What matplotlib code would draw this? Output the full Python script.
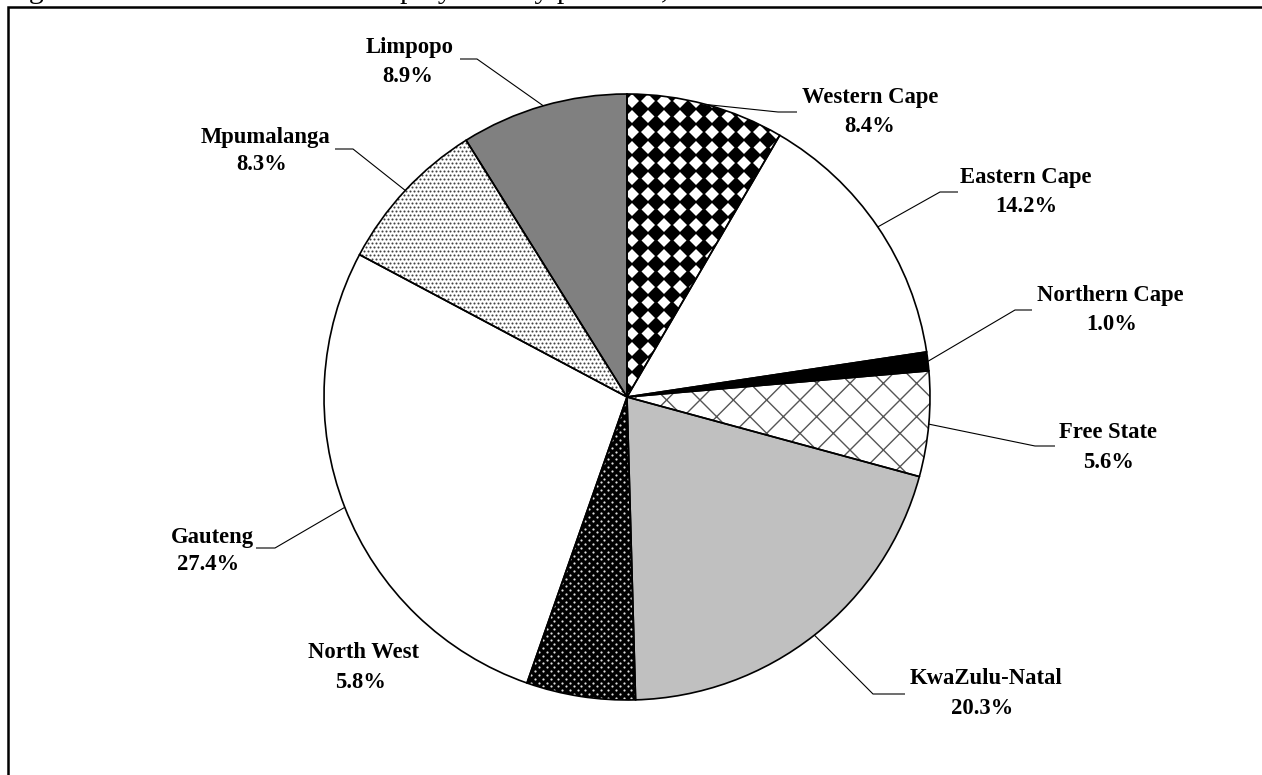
import numpy as np
import matplotlib
matplotlib.use("Agg")
import matplotlib.pyplot as plt
from matplotlib.patches import Wedge, Rectangle

# ---------------- data ----------------
provinces = ["Western Cape", "Eastern Cape", "Northern Cape", "Free State",
             "KwaZulu-Natal", "North West", "Gauteng", "Mpumalanga", "Limpopo"]
shares = [8.4, 14.2, 1.0, 5.6, 20.3, 5.8, 27.4, 8.3, 8.9]
pct_labels = ["8.4%", "14.2%", "1.0%", "5.6%", "20.3%", "5.8%", "27.4%", "8.3%", "8.9%"]
caption = "Figure 4: Distribution of total employment by province, 2010"

# ---------------- layout (image pixels, y downwards) ----------------
W, H = 1262, 775
CX, CY, R = 627, 397, 303
name_pos = [(870, 98), (1026, 178), (1110, 295), (1108, 433), (986, 679),
            (363, 653), (212, 537), (266, 137), (410, 47)]
pct_pos = [(870, 126), (1026, 206), (1112, 325), (1108, 462), (982, 709),
           (360, 682), (208, 565), (262, 165), (408, 77)]
elbow = [(778, 112), (940, 192), (1015, 310), (1035, 446), (873, 694),
         None, (275, 548), (353, 149), (477, 59)]
lead_end = [(797, 112), (958, 192), (1032, 310), (1055, 446), (905, 694),
            None, (256, 548), (335, 149), (460, 59)]

plt.rcParams["font.family"] = ["Liberation Serif", "DejaVu Serif"]
fig = plt.figure(figsize=(W / 100, H / 100), dpi=100)
ax = fig.add_axes([0, 0, 1, 1])


def Y(y):
    return H - y


wedges, _ = ax.pie(shares, startangle=90, counterclock=False,
                   center=(CX, Y(CY)), radius=R, normalize=True,
                   wedgeprops=dict(linewidth=0, edgecolor="none"))
ax.set_xlim(0, W)
ax.set_ylim(0, H)
ax.set_aspect("equal")
ax.axis("off")

fills = ["white", "white", "black", "white", "#c0c0c0", "black", "white", "white", "#808080"]
for w, fc in zip(wedges, fills):
    w.set_facecolor(fc)


def pattern(w, dx, dy, stagger, **kw):
    bb = w.get_path().get_extents()
    xs = np.arange(np.floor(bb.x0 / dx) * dx - dx, bb.x1 + dx, dx)
    ys = np.arange(np.floor(bb.y0 / dy) * dy - dy, bb.y1 + dy, dy)
    X, Yg = np.meshgrid(xs, ys)
    if stagger:
        X = X + (np.arange(len(ys))[:, None] % 2) * dx / 2
    ln, = ax.plot(X.ravel(), Yg.ravel(), ls="none", zorder=2, **kw)
    ln.set_clip_path(w)


# Western Cape: black diamonds (checker look)
pattern(wedges[0], 16, 15.5, False, marker="D", ms=9.0, mfc="black", mec="black", mew=0)
# Free State: grey cross-hatch
fs = Wedge(wedges[3].center, wedges[3].r, wedges[3].theta1, wedges[3].theta2,
           fill=False, hatch="x", edgecolor="#555555", linewidth=0, zorder=2)
ax.add_patch(fs)
# North West: white dots on black
pattern(wedges[5], 7.7, 3.85, True, marker="o", ms=1.6, mfc="#e0e0e0", mec="none")
# Mpumalanga: fine grey stipple
pattern(wedges[7], 4.0, 4.0, True, marker="o", ms=1.5, mfc="#444444", mec="none")

# outlines on top
for w in wedges:
    ax.add_patch(Wedge(w.center, w.r, w.theta1, w.theta2, fill=False,
                       edgecolor="black", linewidth=1.2, zorder=4))

# labels and leader lines
fs_pt = 16.3
for i, w in enumerate(wedges):
    ax.text(name_pos[i][0], Y(name_pos[i][1]), provinces[i], ha="center", va="center",
            fontsize=fs_pt, fontweight="bold", zorder=6)
    ax.text(pct_pos[i][0], Y(pct_pos[i][1]), pct_labels[i], ha="center", va="center",
            fontsize=fs_pt, fontweight="bold", zorder=6)
    if elbow[i] is not None:
        mid = np.deg2rad((w.theta1 + w.theta2) / 2)
        ax_ = w.center[0] + w.r * np.cos(mid)
        ay_ = w.center[1] + w.r * np.sin(mid)
        ax.plot([ax_, elbow[i][0], lead_end[i][0]],
                [ay_, Y(elbow[i][1]), Y(lead_end[i][1])],
                color="black", linewidth=0.8, zorder=5, solid_capstyle="butt")

# frame around the figure (extends beyond bottom/right)
ax.add_patch(Rectangle((8, -20), W + 40, Y(7) + 20, fill=False,
                       edgecolor="black", linewidth=1.8, zorder=7))

# caption cut off at the top edge (only descenders visible)
fig.text(4 / W, (H + 2.5) / H, caption, ha="left", va="baseline",
         fontsize=21.4, family=["Liberation Serif", "DejaVu Serif"])

fig.savefig("out.png", dpi=100)
